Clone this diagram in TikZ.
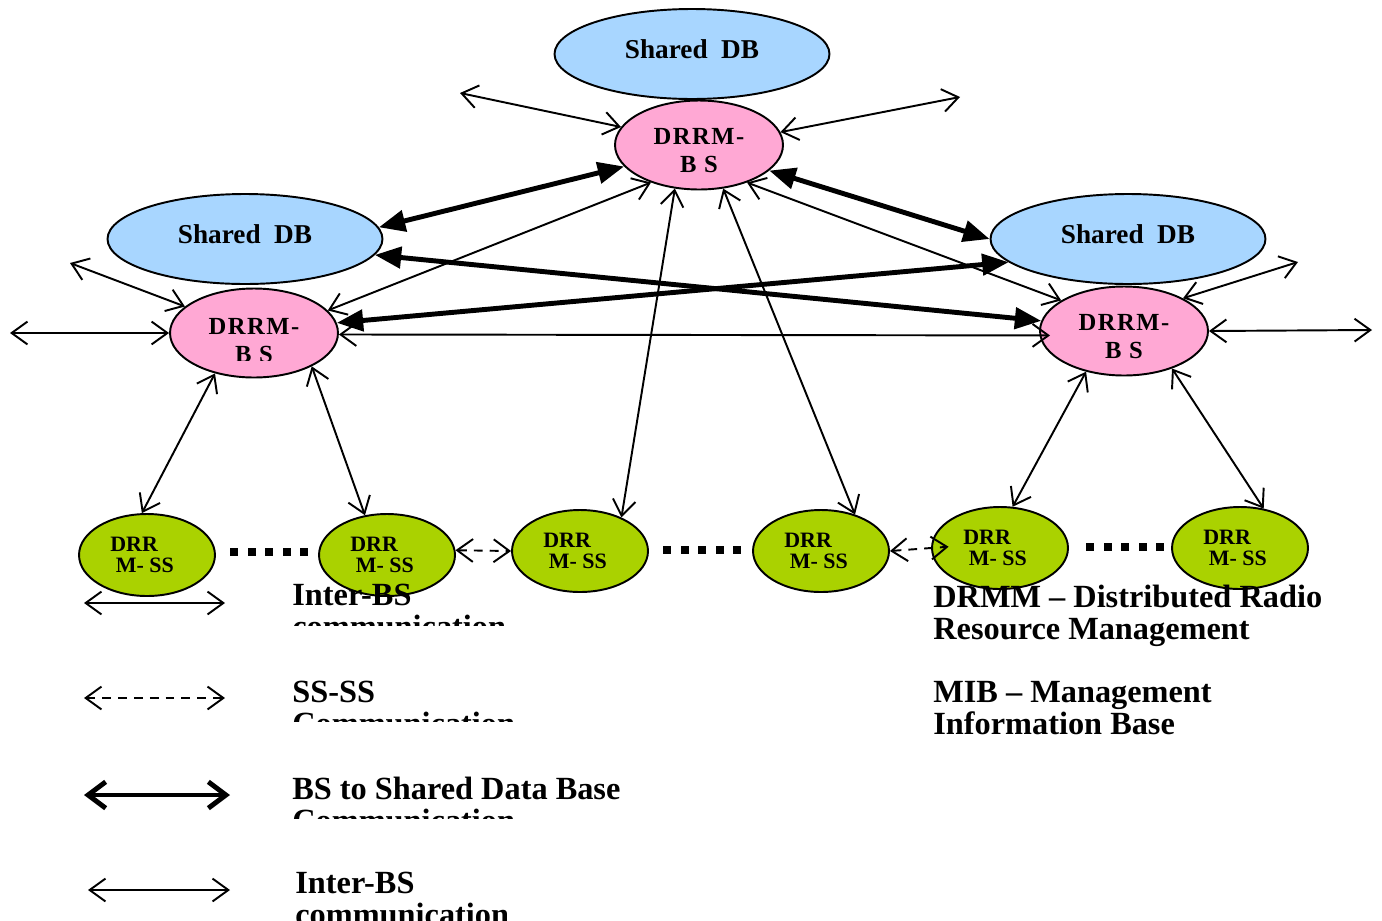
\documentclass[tikz,border=0pt]{standalone}
\usepackage{fontspec}
\setmainfont{Liberation Serif}
\usetikzlibrary{shapes.geometric,arrows.meta}

\definecolor{dbblue}{RGB}{168,214,255}
\definecolor{bspink}{RGB}{255,168,212}
\definecolor{ssgreen}{RGB}{170,210,0}

\begin{document}
\begin{tikzpicture}[x=0.02cm,y=-0.02cm,
    >={Straight Barb[length=9pt,width=13pt]},
    db/.style={ellipse,draw,line width=1.1pt,fill=dbblue,minimum width=5.5cm,
      minimum height=1.8cm,inner sep=0pt,text depth=6pt,
      font=\fontsize{15.5}{17}\bfseries},
    bs/.style={ellipse,draw,line width=1.1pt,fill=bspink,minimum width=3.36cm,
      minimum height=1.78cm,inner sep=0pt},
    bstext/.style={inner sep=0pt,align=center,
      font=\fontsize{14}{16}\bfseries\addfontfeature{LetterSpace=6}},
    ss/.style={ellipse,draw,line width=1.1pt,fill=ssgreen,minimum width=2.72cm,
      minimum height=1.64cm,inner sep=0pt,align=left,font=\fontsize{12.5}{12}\bfseries},
    link/.style={<->,line width=1.1pt},
    sslink/.style={<->,line width=1.1pt,dash pattern=on 5pt off 4pt},
    dblink/.style={{Triangle[length=15pt,width=12pt]}-{Triangle[length=15pt,width=12pt]},
      line width=2.8pt},
    legend/.style={anchor=north west,inner sep=0pt,align=left,
      font=\fontsize{18.4}{18}\bfseries}]
  \useasboundingbox (0,0) rectangle (1382,920);

  % shared data bases and base stations
  \node[db] (DBtop) at (692,54) {Shared\hspace{0.5em}DB};
  \node[db] (DBleft) at (245,239) {Shared\hspace{0.5em}DB};
  \node[db] (DBright) at (1128,239) {Shared\hspace{0.5em}DB};
  \node[bs] (BStop) at (699,145) {};
  \node[bs] (BSleft) at (254,333) {};
  \node[bs] (BSright) at (1124,331) {};
  \node[bstext] (BStopText) at (699,151) {DRRM-\\B S};
  \begin{scope}
    \clip (180,300) rectangle (330,360);
    \node[bstext] (BSleftText) at (254,341) {DRRM-\\B S};
  \end{scope}
  \begin{scope}
    \clip (1050,300) rectangle (1200,358);
    \node[bstext] (BSrightText) at (1124,337) {DRRM-\\B S};
  \end{scope}

  % subscriber stations
  \node[ss] (SS1) at (147,555) {DRR\\\hspace{0.25em}M- SS\hspace*{0.45em}};
  \node[ss] (SS2) at (387,555) {DRR\\\hspace{0.25em}M- SS\hspace*{0.45em}};
  \node[ss] (SS3) at (580,551) {DRR\\\hspace{0.25em}M- SS\hspace*{0.45em}};
  \node[ss] (SS4) at (821,551) {DRR\\\hspace{0.25em}M- SS\hspace*{0.45em}};
  \node[ss] (SS5) at (1000,548) {DRR\\\hspace{0.25em}M- SS\hspace*{0.45em}};
  \node[ss] (SS6) at (1240,548) {DRR\\\hspace{0.25em}M- SS\hspace*{0.45em}};
  \foreach \i in {0,...,4} {
    \fill (230+\i*17.5,548) rectangle +(8,8);
    \fill (663+\i*17.5,546) rectangle +(8,8);
    \fill (1086+\i*17.5,543) rectangle +(8,8);
  }

  % BS to shared DB
  \draw[dblink] (DBleft.5) -- (BStop.196);
  \draw[dblink] (BStop.340) -- (DBright.180);
  \draw[dblink] (DBleft.353) -- (BSright.173);
  \draw[dblink] (BSleft.7) -- (DBright.191);

  % inter-BS
  \coordinate (outTL) at (460,93);
  \coordinate (outTR) at (960,97);
  \coordinate (outL1) at (70,263);
  \coordinate (outL2) at (10,333);
  \coordinate (outR1) at (1298,262);
  \coordinate (outR2) at (1372,330);
  \draw[link] (outTL) -- (BStop.167);
  \draw[link] (BStop.9) -- (outTR);
  \draw[link] (BStop.218) -- (BSleft.17);
  \draw[link] (BStop.322) -- (BSright.154);
  \draw[link] (BStop.241) -- (SS3.39);
  \draw[link] (BStop.299) -- (SS4.47);
  \draw[link] (outL1) -- (BSleft.159);
  \draw[link] (outL2) -- (BSleft.180);
  \draw[link,shorten >=-6pt] (BSleft.359) -- (BSright.183);
  \draw[link] (BSright.29) -- (outR1);
  \draw[link] (BSright.0) -- (outR2);
  \draw[link] (BSleft.226) -- (SS1.97);
  \draw[link] (BSleft.330) -- (SS2.119);
  \draw[link] (BSright.227) -- (SS5.73);
  \draw[link] (BSright.322) -- (SS6.59);

  % SS-SS
  \draw[sslink] (SS2.4) -- (SS3.180);
  \draw[sslink,shorten >=-10pt] (SS4.0) -- (SS5.180);

  % legend
  \coordinate (legA1) at (84,603);  \coordinate (legB1) at (225,603);
  \coordinate (legA2) at (84,698);  \coordinate (legB2) at (225,698);
  \coordinate (legA3) at (84,795);  \coordinate (legB3) at (230,795);
  \coordinate (legA4) at (88,890);  \coordinate (legB4) at (230,890);
  \draw[link] (legA1) -- (legB1);
  \draw[sslink] (legA2) -- (legB2);
  \draw[{Straight Barb[length=10pt,width=15pt]}-{Straight Barb[length=10pt,width=15pt]},
    line width=2.8pt] (legA3) -- (legB3);
  \draw[link] (legA4) -- (legB4);
  \begin{scope}
    \clip (280,570) rectangle (700,625);
    \node[legend] (legInterA) at (292,584) {Inter-BS\\communication};
  \end{scope}
  \begin{scope}
    \clip (280,670) rectangle (700,721);
    \node[legend] (legSS) at (292,681) {SS-SS\\Communication};
  \end{scope}
  \begin{scope}
    \clip (280,765) rectangle (700,818);
    \node[legend] (legDB) at (292,777) {BS to Shared Data Base\\Communication};
  \end{scope}
  \begin{scope}
    \clip (280,860) rectangle (700,920);
    \node[legend] (legInterB) at (295,872) {Inter-BS\\communication};
  \end{scope}
  \node[legend] (noteDRMM) at (933,585) {DRMM -- Distributed Radio\\Resource Management};
  \node[legend] (noteMIB) at (933,681) {MIB -- Management\\Information Base};
\end{tikzpicture}
\end{document}
